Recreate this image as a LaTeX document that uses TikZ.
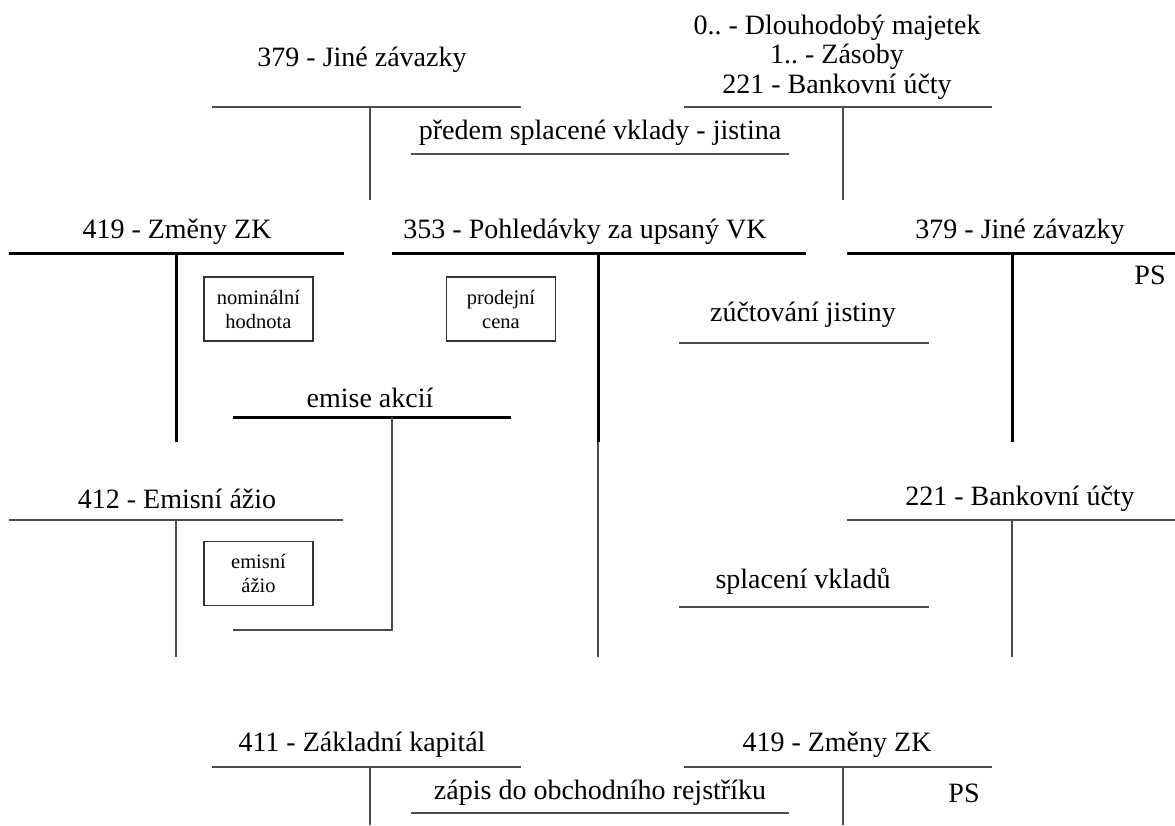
\documentclass[tikz,border=0pt]{standalone}
\usepackage{fontspec}
\setmainfont{Liberation Serif}
\frenchspacing
\begin{document}
\begin{tikzpicture}[x=1pt,y=-1pt,
  lbl/.style={inner sep=0pt, font=\fontsize{28}{30}\selectfont, align=center},
  ruleline/.style={draw=black!70, line width=1.3pt},
  boldline/.style={draw=black, line width=3pt},
  note/.style={draw=black!80, line width=1.2pt, minimum width=109pt, minimum height=64pt,
    align=center, inner sep=0pt, font=\fontsize{20.5}{24}\selectfont}
]
\useasboundingbox (0,0) rectangle (1175,825);

% ---------- top row: prepaid deposits ----------
\node[lbl] (t379) at (362,60) {379 - Jiné závazky};
\draw[ruleline] (212,107) -- (521,107);
\draw[ruleline] (370,107) -- (370,200);

\node[lbl] (tmaj) at (837,28) {0.. - Dlouhodobý majetek};
\node[lbl] (tzas) at (837,57) {1.. - Zásoby};
\node[lbl] (tbank) at (837,87) {221 - Bankovní účty};
\draw[ruleline] (684,107) -- (992,107);
\draw[ruleline] (843,107) -- (843,200);

\node[lbl] (predem) at (600,133) {předem splacené vklady - jistina};
\draw[ruleline] (411,154) -- (789,154);

% ---------- middle row: share issue ----------
\node[lbl] (m419) at (177,232) {419 - Změny ZK};
\draw[boldline] (9,253) -- (344,253);
\draw[boldline] (176,253) -- (176,442);

\node[lbl] (m353) at (585,232) {353 - Pohledávky za upsaný VK};
\draw[boldline] (392,253) -- (806,253);
\draw[boldline] (598,253) -- (598,442);
\draw[ruleline] (598,442) -- (598,657);

\node[lbl] (m379) at (1020,232) {379 - Jiné závazky};
\draw[boldline] (847,253) -- (1175,253);
\draw[boldline] (1012,253) -- (1012,442);
\node[lbl] (ps1) at (1150,275) {PS};

\node[note] (nomin) at (258.5,309) {nominální\\hodnota};
\node[note] (prodej) at (501,309) {prodejní\\cena};

\node[lbl] (emise) at (370,398) {emise akcií};
\draw[boldline] (233,417) -- (511,417);
\coordinate (emisejoin) at (392,417);
\coordinate (emiseend) at (233,630);
\draw[ruleline] (emisejoin) |- (emiseend);

\node[lbl] (zuct) at (803,315) {zúčtování jistiny};
\draw[ruleline] (679,343) -- (929,343);

\node[lbl] (m412) at (177,499) {412 - Emisní ážio};
\draw[ruleline] (9,520) -- (343,520);
\draw[ruleline] (176,520) -- (176,657);
\node[note] (azio) at (258.5,573.5) {emisní\\ážio};

\node[lbl] (m221) at (1020,499) {221 - Bankovní účty};
\draw[ruleline] (847,520) -- (1175,520);
\draw[ruleline] (1012,520) -- (1012,657);

\node[lbl] (splac) at (803,581) {splacení vkladů};
\draw[ruleline] (679,607) -- (929,607);

% ---------- bottom row: registration ----------
\node[lbl] (b411) at (362,745) {411 - Základní kapitál};
\draw[ruleline] (212,767) -- (521,767);
\draw[ruleline] (370,767) -- (370,825);

\node[lbl] (b419) at (837,745) {419 - Změny ZK};
\draw[ruleline] (684,767) -- (992,767);
\draw[ruleline] (843,767) -- (843,825);

\node[lbl] (zapis) at (600,793) {zápis do obchodního rejstříku};
\draw[ruleline] (411,813) -- (789,813);
\node[lbl] (ps2) at (964,793) {PS};
\end{tikzpicture}
\end{document}
